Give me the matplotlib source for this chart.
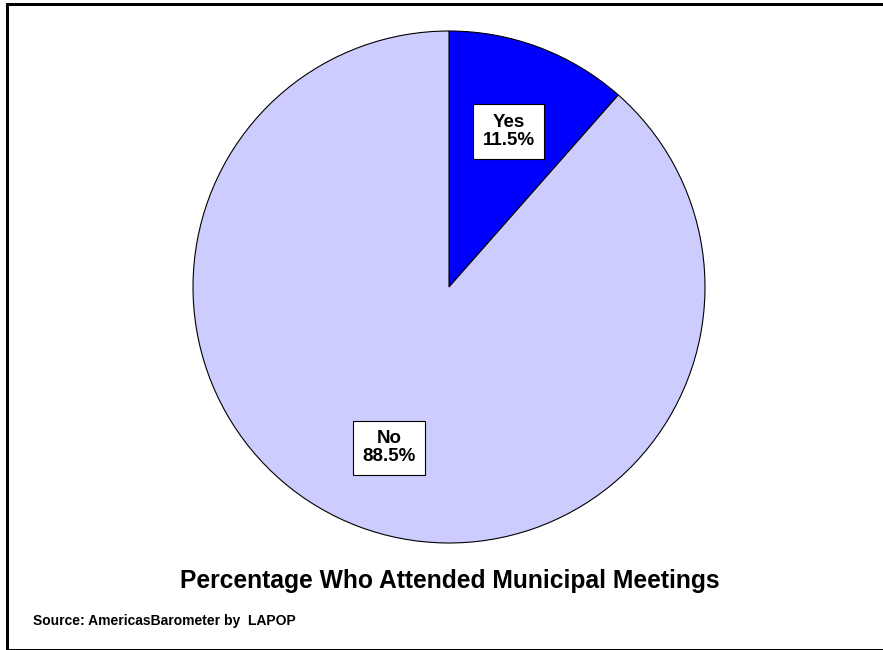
import matplotlib.pyplot as plt
import numpy as np
from matplotlib.patches import Rectangle

labels = ["Yes", "No"]
values = [11.5, 88.5]
colors = ["#0000FF", "#CCCCFF"]
title = "Percentage Who Attended Municipal Meetings"
source = "Source: AmericasBarometer by  LAPOP"

plt.rcParams["font.family"] = ["Liberation Sans", "DejaVu Sans"]

W, H = 883, 650
fig = plt.figure(figsize=(W / 100, H / 100), dpi=100)

# outer frame (right and bottom run off the edge)
px = 1 / 100 * 72
fig.patches.append(Rectangle((7.5 / W, 1 - 649.5 / H), (900 - 7.5) / W, (649.5 - 4) / H,
                             transform=fig.transFigure, fill=False, ec="black",
                             lw=3 * px, clip_on=False))

ax = fig.add_axes([193 / W, (H - 543) / H, 512 / W, 512 / H])
wedges, _ = ax.pie(values, colors=colors, startangle=90, counterclock=False,
                   radius=1, wedgeprops=dict(edgecolor="black", linewidth=0.8))
ax.set_xlim(-1, 1)
ax.set_ylim(-1, 1)
ax.set_aspect("equal")
ax.axis("off")

for w, lab, v in zip(wedges, labels, values):
    mid = np.deg2rad((w.theta1 + w.theta2) / 2)
    r = 0.66
    ax.text(r * np.cos(mid), r * np.sin(mid) - 0.01, f"{lab}\n{v:.1f}%", ha="center", va="center",
            fontsize=13.5, fontweight="bold", linespacing=1.1,
            bbox=dict(boxstyle="square,pad=0.5", fc="white", ec="black", lw=0.8))

fig.text(450 / W, 1 - 581 / H, title, ha="center", va="center", fontsize=17.7, fontweight="bold")
fig.text(33 / W, 1 - 621 / H, source, ha="left", va="center", fontsize=10, fontweight="bold")

fig.savefig("out.png", dpi=100)
